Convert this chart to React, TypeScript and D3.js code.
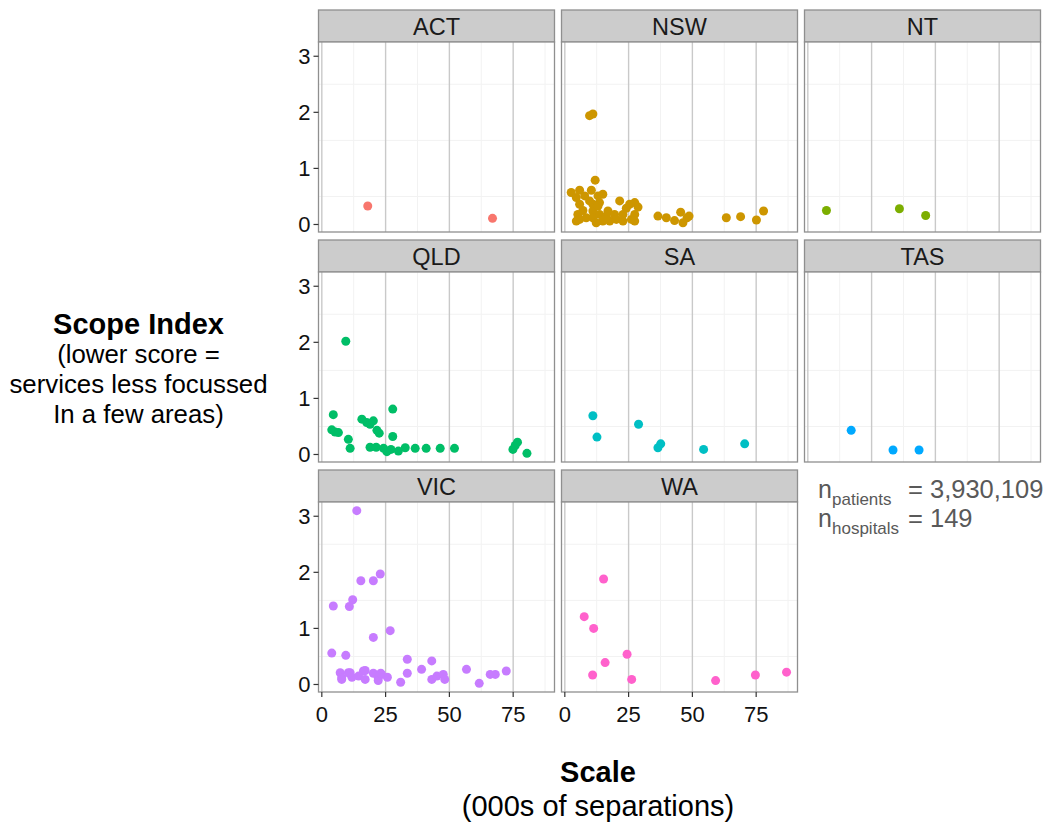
import React from "react";
import * as d3 from "d3";

// ---------- data ----------
const states = ["ACT", "NSW", "NT", "QLD", "SA", "TAS", "VIC", "WA"];
const colors = ["#F8766D", "#CD9600", "#7CAE00", "#00BE67", "#00BFC4", "#00A9FF", "#C77CFF", "#FF61CC"];

const actPoints: [number, number][] = [[18.0, 0.33], [66.9, 0.11]];
const nswPoints: [number, number][] = [
  [9.7, 1.94], [11.0, 1.97], [11.9, 0.79],
  [2.5, 0.57], [5.8, 0.61], [10.4, 0.61], [14.9, 0.54], [4.5, 0.48], [7.8, 0.51], [13.0, 0.51],
  [21.5, 0.42], [27.4, 0.39], [28.7, 0.31], [5.8, 0.36], [11.0, 0.36], [13.6, 0.39], [5.1, 0.18],
  [7.1, 0.25], [11.0, 0.24], [13.6, 0.18], [16.9, 0.24], [19.5, 0.18], [22.8, 0.18], [24.1, 0.29],
  [25.4, 0.36], [5.8, 0.09], [8.4, 0.12], [14.9, 0.06], [17.6, 0.06], [20.2, 0.09], [22.8, 0.06],
  [26.1, 0.09], [27.4, 0.18], [11.0, 0.12], [12.3, 0.03], [16.3, 0.15], [9.7, 0.42], [13.0, 0.33],
  [27.4, 0.06], [4.5, 0.06], [15.6, 0.09],
  [36.5, 0.15], [39.8, 0.12], [43.0, 0.07], [45.4, 0.22], [46.3, 0.03], [47.9, 0.12], [48.7, 0.15],
  [63.3, 0.12], [68.9, 0.14], [75.1, 0.08], [77.9, 0.24],
];
const ntPoints: [number, number][] = [[7.3, 0.25], [35.9, 0.28], [46.2, 0.16]];
const qldPoints: [number, number][] = [
  [9.4, 2.02], [4.5, 0.71], [3.9, 0.44], [5.2, 0.40], [6.5, 0.39], [10.4, 0.27], [11.1, 0.11],
  [15.7, 0.63], [17.6, 0.57], [18.9, 0.54], [20.2, 0.60], [21.6, 0.43], [22.5, 0.38], [27.8, 0.81],
  [27.8, 0.32], [18.9, 0.13], [21.3, 0.13], [24.2, 0.11], [25.5, 0.05], [27.1, 0.09], [30.0, 0.06],
  [32.7, 0.12], [36.6, 0.11], [40.9, 0.11], [46.4, 0.11], [52.0, 0.11], [74.9, 0.09], [75.8, 0.16],
  [76.7, 0.22], [80.4, 0.02],
];
const saPoints: [number, number][] = [
  [11.0, 0.69], [12.6, 0.31], [28.9, 0.54], [36.5, 0.12], [37.6, 0.19], [54.4, 0.09], [70.5, 0.19],
];
const tasPoints: [number, number][] = [[17.0, 0.43], [33.4, 0.08], [43.6, 0.08]];
const vicPoints: [number, number][] = [
  [13.7, 3.1], [4.5, 1.40], [10.8, 1.39], [12.1, 1.51], [15.3, 1.85], [20.2, 1.85], [22.9, 1.97],
  [20.2, 0.84], [26.8, 0.96], [3.9, 0.56], [9.4, 0.52],
  [7.2, 0.21], [7.8, 0.12], [10.4, 0.21], [11.8, 0.13], [14.4, 0.15], [16.3, 0.24], [17.0, 0.09],
  [20.2, 0.20], [22.1, 0.12], [23.4, 0.18], [25.7, 0.13], [30.9, 0.04], [33.5, 0.20], [33.5, 0.45],
  [39.1, 0.27], [43.1, 0.42], [43.1, 0.09], [45.1, 0.15], [47.6, 0.18], [48.2, 0.09], [56.7, 0.27],
  [61.7, 0.02], [66.0, 0.18], [68.0, 0.18], [72.3, 0.24], [7.8, 0.09], [11.1, 0.21], [17.0, 0.25],
  [22.1, 0.07], [23.1, 0.20],
];
const waPoints: [number, number][] = [
  [15.2, 1.88], [7.6, 1.21], [11.3, 1.00], [24.4, 0.54], [15.8, 0.39], [10.9, 0.17], [26.2, 0.09],
  [59.1, 0.07], [74.7, 0.17], [86.9, 0.22],
];
const statePoints = [actPoints, nswPoints, ntPoints, qldPoints, saPoints, tasPoints, vicPoints, waPoints];

const xTicks = [0, 25, 50, 75];
const xMinor = [12.5, 37.5, 62.5, 87.5];
const yTicks = [0, 1, 2, 3];
const yMinor = [0.5, 1.5, 2.5];

// ---------- layout ----------
const W = 1048, H = 824;
const colLeft = [318.5, 561.5, 804.5];
const panelW = 236;
const rowTop = [10, 240, 470];
const stripH = 32;
const plotH = 190;
const FONT = "'Liberation Sans', Arial, Helvetica, sans-serif";

export default function App() {
  const x = d3.scaleLinear().domain([-1.3, 91.2]).range([0, panelW]);
  const y = d3.scaleLinear().domain([-0.134, 3.254]).range([plotH, 0]);

  return (
    <svg width={W} height={H} style={{ position: "absolute", left: 0, top: 0, background: "#fff" }} fontFamily={FONT}>
      <rect width={W} height={H} fill="#fff" />
      {states.map((s, i) => {
        const col = i % 3;
        const row = Math.floor(i / 3);
        const px = colLeft[col];
        const sy = rowTop[row];
        const py = sy + stripH;
        const pts = statePoints[i];
        const showX = row === 2;
        const showY = col === 0;
        return (
          <g key={s}>
            {/* strip */}
            <rect x={px} y={sy} width={panelW} height={stripH} fill="#CCCCCC" stroke="#8f8f8f" strokeWidth={1.3} />
            <text x={px + panelW / 2} y={sy + stripH / 2 + 8.5} textAnchor="middle" fontSize={23.5} fill="#1a1a1a">{s}</text>
            <g transform={`translate(${px},${py})`}>
              <rect x={0} y={0} width={panelW} height={plotH} fill="#fff" />
              {xMinor.map((t) => (
                <line key={"xm" + t} x1={x(t)} x2={x(t)} y1={0} y2={plotH} stroke="#F2F2F2" strokeWidth={1} />
              ))}
              {yMinor.map((t) => (
                <line key={"ym" + t} x1={0} x2={panelW} y1={y(t)} y2={y(t)} stroke="#F2F2F2" strokeWidth={1} />
              ))}
              {xTicks.map((t) => (
                <line key={"xg" + t} x1={x(t)} x2={x(t)} y1={0} y2={plotH} stroke="#C9C9C9" strokeWidth={1.4} />
              ))}
              {pts.map((p, j) => (
                <circle key={j} cx={x(p[0])} cy={y(p[1])} r={4.5} fill={colors[i]} />
              ))}
              <rect x={0} y={0} width={panelW} height={plotH} fill="none" stroke="#8f8f8f" strokeWidth={1.3} />
              {showY &&
                yTicks.map((t) => (
                  <g key={"yt" + t}>
                    <line x1={-5} x2={0} y1={y(t)} y2={y(t)} stroke="#333" strokeWidth={1.2} />
                    <text x={-8} y={y(t) + 8} textAnchor="end" fontSize={22} fill="#111">{t}</text>
                  </g>
                ))}
              {showX &&
                xTicks.map((t) => (
                  <g key={"xt" + t}>
                    <line x1={x(t)} x2={x(t)} y1={plotH} y2={plotH + 5} stroke="#333" strokeWidth={1.2} />
                    <text x={x(t)} y={plotH + 30} textAnchor="middle" fontSize={22} fill="#111">{t}</text>
                  </g>
                ))}
            </g>
          </g>
        );
      })}

      {/* annotation */}
      <g fill="#595959">
        <text x={818} y={498} fontSize={25}>n</text>
        <text x={832} y={505} fontSize={17}>patients</text>
        <text x={908} y={498} fontSize={25.5}>= 3,930,109</text>
        <text x={818} y={527} fontSize={25}>n</text>
        <text x={832} y={534} fontSize={17}>hospitals</text>
        <text x={908} y={527} fontSize={25.5}>= 149</text>
      </g>

      {/* y axis title */}
      <g textAnchor="middle" fill="#000">
        <text x={138.5} y={334} fontSize={29} fontWeight="bold">Scope Index</text>
        <text x={138.5} y={363} fontSize={25.8}>(lower score =</text>
        <text x={138.5} y={393} fontSize={25.8}>services less focussed</text>
        <text x={138.5} y={423} fontSize={25.8}>In a few areas)</text>
      </g>

      {/* x axis title */}
      <g textAnchor="middle" fill="#000">
        <text x={598} y={782} fontSize={29} fontWeight="bold">Scale</text>
        <text x={598} y={816} fontSize={29}>(000s of separations)</text>
      </g>
    </svg>
  );
}
